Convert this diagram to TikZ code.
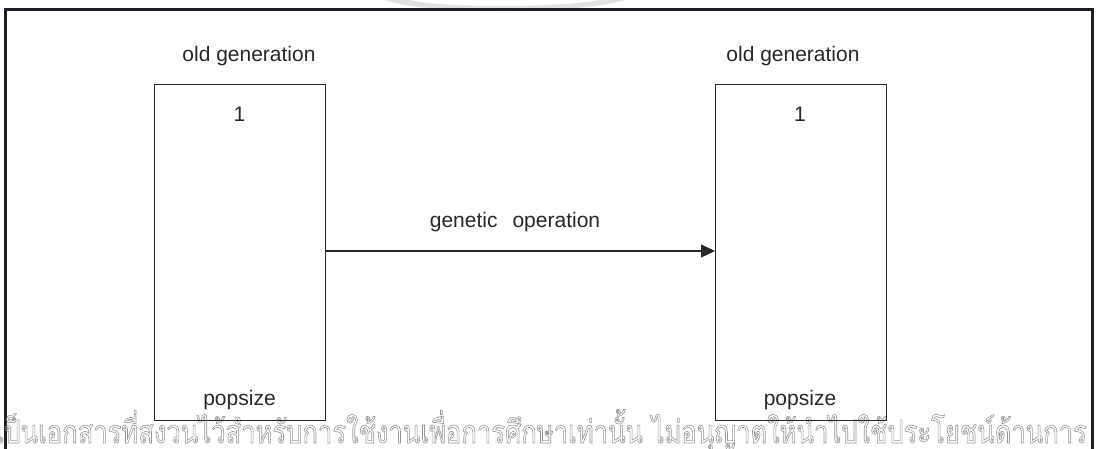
\documentclass[tikz,border=0pt]{standalone}
\usepackage{fontspec}
\setmainfont{Liberation Sans}
\newfontfamily\thaifont[Script=Thai,FakeStretch=0.80]{Loma}
\usetikzlibrary{arrows.meta}

\definecolor{ink}{RGB}{40,40,44}
\definecolor{frameink}{RGB}{30,30,36}
\definecolor{wmark}{RGB}{150,150,150}
\definecolor{wmarkfill}{RGB}{225,225,225}

\tikzset{
  popbox/.style={draw=ink, line width=1.2pt, minimum width=171pt, minimum height=336pt,
    inner sep=0pt, anchor=north west},
  lbl/.style={font=\fontsize{21}{25}\selectfont, text=ink, inner sep=0pt, anchor=base},
  flow/.style={draw=ink, line width=1.1pt, -{Triangle[length=14pt,width=13pt]}},
}

\begin{document}
\begin{tikzpicture}[x=1pt,y=-1pt]
  \useasboundingbox (0,0) rectangle (1097,449);
  \begin{scope}
    \clip (0,0) rectangle (1097,449);

    % faint crescent of the seal above the frame
    \fill[wmarkfill] (385,0) .. controls (420,14) and (570,16) .. (625,0)
      -- (600,0) .. controls (560,8) and (440,8) .. (410,0) -- cycle;

    % outer frame (open at the bottom)
    \draw[frameink, line width=3pt] (5.5,460) -- (5.5,10) -- (1092.5,10) -- (1092.5,460);

    % Thai watermark line, outlined
    \node[anchor=base east, inner sep=0pt, text=wmark] (wm) at (1087,443)
      {\special{pdf:literal direct 1 Tr 0.6 w}\thaifont\fontsize{32}{36}\selectfont
       เป็นเอกสารที่สงวนไว้สำหรับการใช้งานเพื่อการศึกษาเท่านั้น ไม่อนุญาตให้นำไปใช้ประโยชน์ด้านการ\special{pdf:literal direct 0 Tr}};
  \end{scope}

  % population boxes
  \node[popbox] (oldA) at (154,84) {};
  \node[popbox] (oldB) at (715,84) {};

  % headings
  \node[lbl] (hA) at (249,62) {old generation};
  \node[lbl] (hB) at (793,62) {old generation};

  % first and last members
  \node[lbl] (oneA) at (239.5,122) {1};
  \node[lbl] (oneB) at (800,122) {1};
  \node[lbl] (popA) at (239.5,405) {popsize};
  \node[lbl] (popB) at (800,405) {popsize};

  % transformation arrow
  \draw[flow] (oldA.east |- 0,251) -- (oldB.west |- 0,251);
  \node[lbl] (op) at (515,227) {genetic\hspace{15pt}operation};
\end{tikzpicture}
\end{document}
